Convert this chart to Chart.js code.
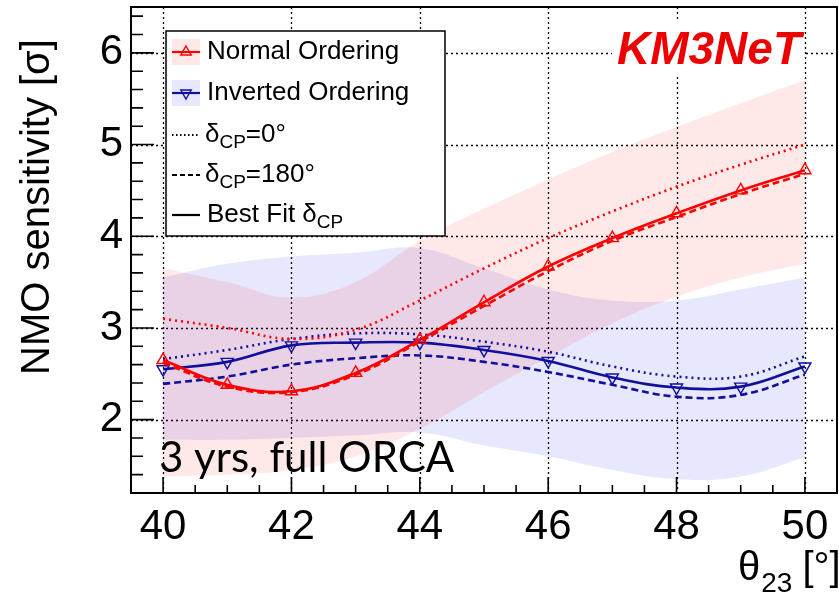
<!DOCTYPE html>
<html>
<head>
<meta charset="utf-8">
<script src="https://cdn.jsdelivr.net/npm/chart.js@4.4.1/dist/chart.umd.min.js"></script>
<style>
  html, body { margin: 0; padding: 0; background: #fff; }
  #wrap { width: 839px; height: 596px; position: relative; }
</style>
</head>
<body>
<div id="wrap"><canvas id="nmo"></canvas></div>
<script>
// theta_23 grid, degrees
const theta = [40, 41, 42, 43, 44, 45, 46, 47, 48, 49, 50];

// normal ordering
const noBest     = [2.65, 2.38, 2.31, 2.51, 2.87, 3.28, 3.67, 3.98, 4.25, 4.50, 4.72];
const noDelta0   = [3.10, 3.00, 2.88, 2.98, 3.30, 3.65, 3.98, 4.27, 4.54, 4.78, 5.00];
const noDelta180 = [2.62, 2.36, 2.30, 2.49, 2.85, 3.24, 3.62, 3.95, 4.21, 4.46, 4.68];
const noBandLow  = [1.38, 1.40, 1.45, 1.60, 1.90, 2.30, 2.68, 3.05, 3.34, 3.55, 3.70];
const noBandHigh = [3.65, 3.50, 3.33, 3.50, 3.95, 4.30, 4.62, 4.92, 5.19, 5.45, 5.70];

// inverted ordering
const ioBest     = [2.55, 2.63, 2.81, 2.84, 2.84, 2.76, 2.64, 2.46, 2.35, 2.36, 2.58];
const ioDelta0   = [2.66, 2.76, 2.88, 2.94, 2.93, 2.85, 2.74, 2.58, 2.47, 2.47, 2.69];
const ioDelta180 = [2.39, 2.47, 2.60, 2.67, 2.70, 2.63, 2.52, 2.38, 2.25, 2.27, 2.49];
const ioBandLow  = [1.78, 1.78, 1.80, 1.83, 1.86, 1.72, 1.60, 1.45, 1.35, 1.38, 1.59];
const ioBandHigh = [3.55, 3.70, 3.78, 3.82, 3.87, 3.65, 3.42, 3.30, 3.30, 3.42, 3.55];

const xTicks = [40, 42, 44, 46, 48, 50];
const yTicks = [2, 3, 4, 5, 6];

const RED = '#ff0000';
const BLUE = '#10109c';
const RED_BAND = 'rgba(255, 30, 30, 0.10)';
const BLUE_BAND = 'rgba(40, 40, 235, 0.11)';
const FONT = '"Liberation Sans", Arial, Helvetica, sans-serif';

const pts = vals => vals.map((v, i) => ({x: theta[i], y: v}));

function band(vals, fill, color) {
  return {
    data: pts(vals), fill: fill, backgroundColor: color,
    borderWidth: 0, pointRadius: 0, tension: 0.4, order: 10
  };
}

function curve(vals, color, dash, marker) {
  return {
    data: pts(vals), fill: false,
    borderColor: color, borderWidth: 2.6, borderDash: dash,
    tension: 0.4, order: 1,
    pointRadius: marker ? 7 : 0,
    pointStyle: 'triangle',
    pointRotation: marker === 'down' ? 180 : 0,
    pointBorderColor: color, pointBorderWidth: 1.4,
    pointBackgroundColor: 'rgba(0,0,0,0)'
  };
}

// fixed axis boxes, no extra room for edge labels
function fitX(s) {
  s.height = 59;
  s.paddingLeft = 0; s.paddingRight = 0;
}
function fitY(s) {
  s.width = 32;
  s.paddingTop = 0; s.paddingBottom = 0;
}

// dotted grid + frame with inward ticks
const frame = {
  id: 'frame',
  beforeDatasetsDraw(chart) {
    const {ctx, chartArea: a, scales: {x, y}} = chart;
    ctx.save();
    ctx.strokeStyle = '#000';
    ctx.lineWidth = 1.3;
    ctx.setLineDash([2, 3]);
    ctx.beginPath();
    xTicks.forEach(v => {
      const px = Math.round(x.getPixelForValue(v)) + 0.5;
      ctx.moveTo(px, a.top); ctx.lineTo(px, a.bottom);
    });
    yTicks.forEach(v => {
      const py = Math.round(y.getPixelForValue(v)) + 0.5;
      ctx.moveTo(a.left, py); ctx.lineTo(a.right, py);
    });
    ctx.stroke();
    ctx.restore();
  },
  afterDraw(chart) {
    const {ctx, chartArea: a, scales: {x, y}} = chart;
    ctx.save();
    ctx.strokeStyle = '#000';
    ctx.lineWidth = 1.6;
    ctx.beginPath();
    for (let k = 80; k <= 100; k++) {
      const px = x.getPixelForValue(k / 2);
      const len = k % 4 === 0 ? 16 : 8;
      ctx.moveTo(px, a.bottom); ctx.lineTo(px, a.bottom - len);
    }
    for (let k = 12; k <= 64; k += 2) {
      const py = y.getPixelForValue(k / 10);
      const len = k % 10 === 0 ? 23 : 12;
      ctx.moveTo(a.left, py); ctx.lineTo(a.left + len, py);
    }
    ctx.stroke();
    ctx.lineWidth = 2;
    ctx.strokeRect(a.left, a.top, a.right - a.left, a.bottom - a.top);

    // axis titles
    ctx.fillStyle = '#000';
    ctx.save();
    ctx.translate(49, 207);
    ctx.rotate(-Math.PI / 2);
    ctx.font = '40px ' + FONT;
    ctx.textAlign = 'center';
    ctx.textBaseline = 'alphabetic';
    ctx.fillText('NMO sensitivity [\u03c3]', 0, 0);
    ctx.restore();

    ctx.textAlign = 'left';
    ctx.textBaseline = 'alphabetic';
    let tx = 738;
    ctx.font = '40px ' + FONT;
    ctx.fillText('\u03b8', tx, 580);
    tx += ctx.measureText('\u03b8').width + 1;
    ctx.font = '28px ' + FONT;
    ctx.fillText('23', tx, 592);
    tx += ctx.measureText('23').width + 10;
    ctx.font = '40px ' + FONT;
    ctx.fillText('[\u00b0]', tx, 580);

    // experiment tag
    ctx.fillStyle = '#fff';
    ctx.fillRect(612, 20, 192, 54);
    ctx.fillStyle = '#ee0000';
    ctx.font = 'italic bold 46px ' + FONT;
    ctx.fillText('KM3NeT', 617, 64);

    ctx.fillStyle = '#000';
    ctx.font = '42px Lato, "Open Sans", sans-serif';
    ctx.fillText('3 yrs, full ORCA', 159, 472);

    drawLegend(ctx);
    ctx.restore();
  }
};

function tri(ctx, cx, cy, r, down, color) {
  const s = down ? -1 : 1;
  ctx.beginPath();
  ctx.moveTo(cx, cy - s * r);
  ctx.lineTo(cx + r * 0.87, cy + s * r * 0.5);
  ctx.lineTo(cx - r * 0.87, cy + s * r * 0.5);
  ctx.closePath();
  ctx.strokeStyle = color;
  ctx.lineWidth = 1.4;
  ctx.stroke();
}

function sample(ctx, y, color, dash) {
  ctx.strokeStyle = color;
  ctx.lineWidth = 2.2;
  ctx.setLineDash(dash);
  ctx.beginPath();
  ctx.moveTo(172, y); ctx.lineTo(200, y);
  ctx.stroke();
  ctx.setLineDash([]);
}

function deltaLabel(ctx, x, y, pre, post) {
  ctx.font = '26px ' + FONT;
  ctx.fillText(pre + '\u03b4', x, y);
  x += ctx.measureText(pre + '\u03b4').width;
  ctx.font = '19px ' + FONT;
  ctx.fillText('CP', x, y + 8);
  x += ctx.measureText('CP').width;
  ctx.font = '26px ' + FONT;
  if (post) ctx.fillText(post, x, y);
}

function drawLegend(ctx) {
  const L = 166, T = 31, W = 279, H = 205;
  ctx.fillStyle = '#fff';
  ctx.fillRect(L, T, W, H);
  ctx.strokeStyle = '#000';
  ctx.lineWidth = 1.5;
  ctx.strokeRect(L, T, W, H);

  const rows = [52, 93, 135, 175, 215];
  ctx.fillStyle = RED_BAND;
  ctx.fillRect(172, rows[0] - 13, 28, 26);
  sample(ctx, rows[0], RED, []);
  tri(ctx, 186, rows[0], 6, false, RED);

  ctx.fillStyle = BLUE_BAND;
  ctx.fillRect(172, rows[1] - 13, 28, 26);
  sample(ctx, rows[1], BLUE, []);
  tri(ctx, 186, rows[1], 6, true, BLUE);

  sample(ctx, rows[2], '#000', [1.5, 2.5]);
  sample(ctx, rows[3], '#000', [5, 3]);
  sample(ctx, rows[4], '#000', []);

  ctx.fillStyle = '#000';
  ctx.textAlign = 'left';
  ctx.textBaseline = 'middle';
  ctx.font = '26px ' + FONT;
  ctx.fillText('Normal Ordering', 207, rows[0]);
  ctx.fillText('Inverted Ordering', 207, rows[1]);
  deltaLabel(ctx, 205, rows[2], '', '=0\u00b0');
  deltaLabel(ctx, 205, rows[3], '', '=180\u00b0');
  deltaLabel(ctx, 207, rows[4], 'Best Fit ', '');
}

new Chart(document.getElementById('nmo'), {
  type: 'line',
  data: {
    datasets: [
      band(noBandLow, false, 'rgba(0,0,0,0)'),
      band(noBandHigh, '-1', RED_BAND),
      band(ioBandLow, false, 'rgba(0,0,0,0)'),
      band(ioBandHigh, '-1', BLUE_BAND),
      curve(noDelta0, RED, [2, 4], null),
      curve(noDelta180, RED, [7, 4], null),
      curve(noBest, RED, [], 'up'),
      curve(ioDelta0, BLUE, [2, 4], null),
      curve(ioDelta180, BLUE, [7, 4], null),
      curve(ioBest, BLUE, [], 'down')
    ]
  },
  options: {
    responsive: true,
    maintainAspectRatio: false,
    animation: false,
    layout: { autoPadding: false, padding: { left: 99, right: 2, top: 7, bottom: 44 } },
    plugins: { legend: { display: false }, tooltip: { enabled: false } },
    scales: {
      x: {
        type: 'linear', min: 39.5, max: 50.5,
        afterBuildTicks: s => { s.ticks = xTicks.map(v => ({value: v})); },
        afterFit: fitX,
        grid: { display: false, drawTicks: false },
        border: { display: false },
        ticks: { color: '#000', font: { family: FONT, size: 42 }, padding: 9, maxRotation: 0, autoSkip: false }
      },
      y: {
        type: 'linear', min: 1.2, max: 6.5,
        afterBuildTicks: s => { s.ticks = yTicks.map(v => ({value: v})); },
        afterFit: fitY,
        grid: { display: false, drawTicks: false },
        border: { display: false },
        ticks: { color: '#000', font: { family: FONT, size: 42 }, padding: 8 }
      }
    }
  },
  plugins: [frame]
});
</script>
</body>
</html>
